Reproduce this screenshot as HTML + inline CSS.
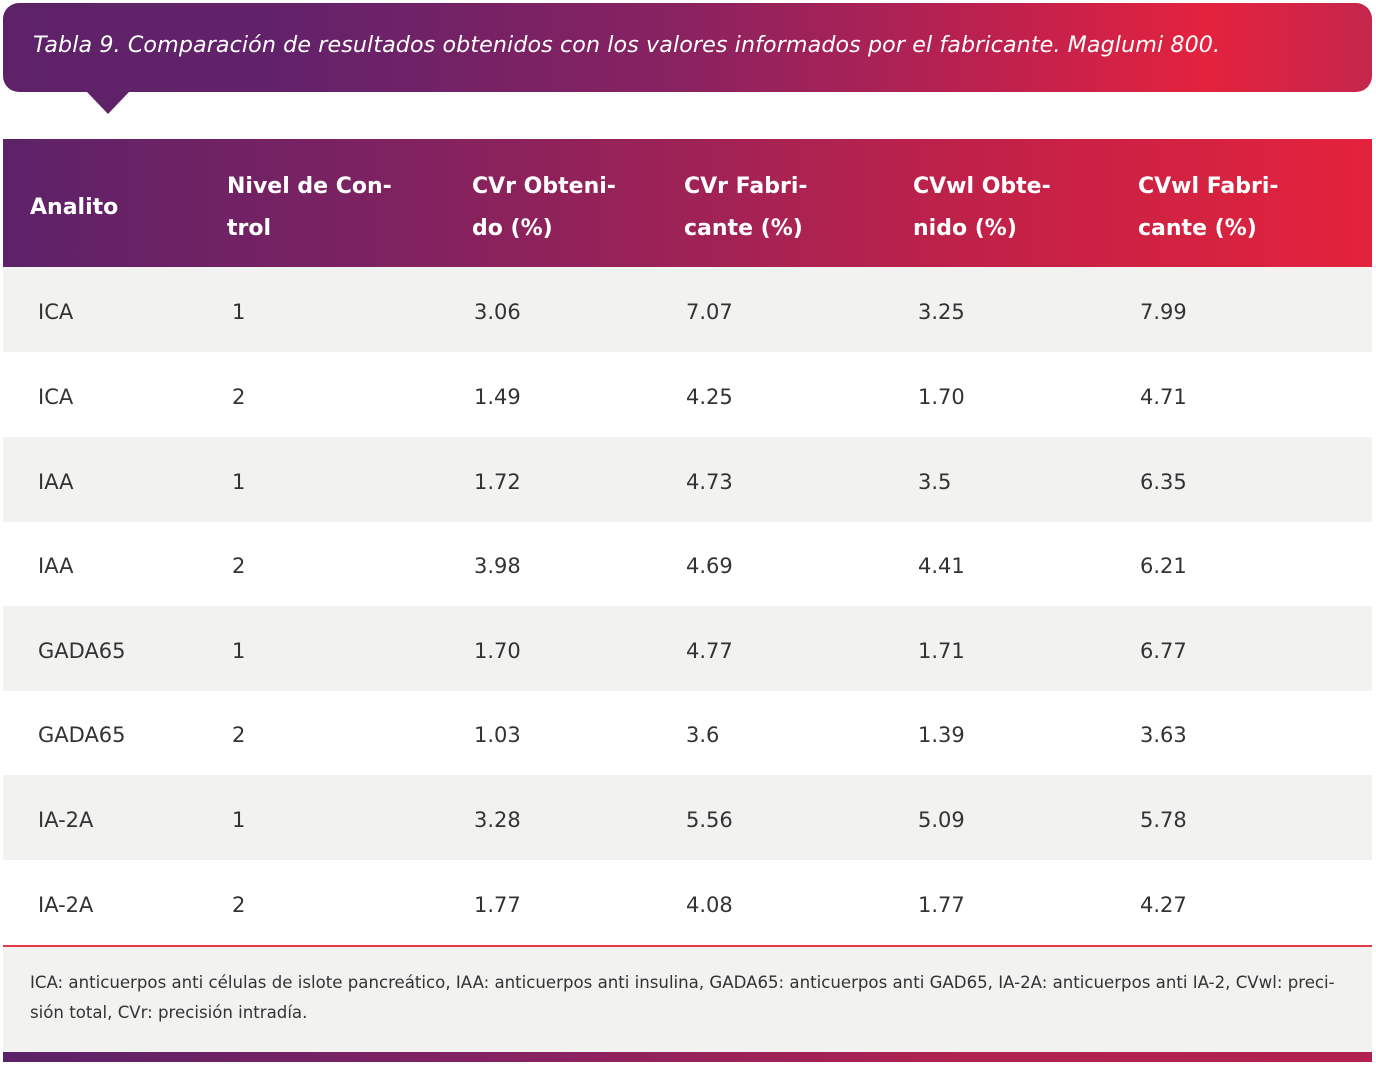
<!DOCTYPE html>
<html><head><meta charset="utf-8"><style>
*{margin:0;padding:0;box-sizing:border-box}
body{width:1376px;height:1066px;background:#fff;position:relative;overflow:hidden;font-family:"DejaVu Sans","Liberation Sans",sans-serif}
.title{position:absolute;left:3px;top:3px;width:1369px;height:89px;border-radius:16px;background:linear-gradient(90deg,#5e2268 0%,#62226a 20%,#8a2260 50%,#c4214c 75%,#e4223e 88%,#c4264c 100%);color:#fff;font-style:italic;font-size:22.2px;padding:29px 0 0 30px;letter-spacing:0.1px}
.tri{position:absolute;left:87px;top:92px;width:0;height:0;border-left:21px solid transparent;border-right:21px solid transparent;border-top:22px solid #5f2268}
.head{position:absolute;left:3px;top:139px;width:1369px;height:128px;background:linear-gradient(90deg,#5d2268 0%,#7a2262 25%,#9e2256 50%,#c22148 72%,#e4223c 100%);color:#fff;font-weight:bold;font-size:22px}
.head div{position:absolute;line-height:42px}
.row{position:absolute;left:3px;width:1369px;height:85px;color:#333;font-size:21px}
.row div{position:absolute;top:33px}
.g{background:#f2f2f1}
.line{position:absolute;left:3px;top:945px;width:1369px;height:2px;background:#e23a48}
.foot{position:absolute;left:3px;top:947px;width:1369px;height:105px;background:#f2f2f1;color:#333;font-size:16.6px;line-height:30px;padding:21px 20px 0 27px;white-space:nowrap}
.bar{position:absolute;left:3px;top:1052px;width:1369px;height:10px;background:linear-gradient(90deg,#5a2268,#8a2260 40%,#b0224f 70%,#b2214e)}
</style></head><body>
<div class="title">Tabla 9. Comparación de resultados obtenidos con los valores informados por el fabricante. Maglumi 800.</div>
<div class="tri"></div>
<div class="head">
<div style="left:27px;top:48px">Analito</div>
<div style="left:224px;top:27px">Nivel de Con-<br>trol</div>
<div style="left:469px;top:27px">CVr Obteni-<br>do (%)</div>
<div style="left:681px;top:27px">CVr Fabri-<br>cante (%)</div>
<div style="left:910px;top:27px">CVwl Obte-<br>nido (%)</div>
<div style="left:1135px;top:27px">CVwl Fabri-<br>cante (%)</div>
</div>
<div class="row g" style="top:267px"><div style="left:35px">ICA</div><div style="left:229px">1</div><div style="left:471px">3.06</div><div style="left:683px">7.07</div><div style="left:915px">3.25</div><div style="left:1137px">7.99</div></div>
<div class="row" style="top:352px"><div style="left:35px">ICA</div><div style="left:229px">2</div><div style="left:471px">1.49</div><div style="left:683px">4.25</div><div style="left:915px">1.70</div><div style="left:1137px">4.71</div></div>
<div class="row g" style="top:437px"><div style="left:35px">IAA</div><div style="left:229px">1</div><div style="left:471px">1.72</div><div style="left:683px">4.73</div><div style="left:915px">3.5</div><div style="left:1137px">6.35</div></div>
<div class="row" style="top:521px"><div style="left:35px">IAA</div><div style="left:229px">2</div><div style="left:471px">3.98</div><div style="left:683px">4.69</div><div style="left:915px">4.41</div><div style="left:1137px">6.21</div></div>
<div class="row g" style="top:606px"><div style="left:35px">GADA65</div><div style="left:229px">1</div><div style="left:471px">1.70</div><div style="left:683px">4.77</div><div style="left:915px">1.71</div><div style="left:1137px">6.77</div></div>
<div class="row" style="top:690px"><div style="left:35px">GADA65</div><div style="left:229px">2</div><div style="left:471px">1.03</div><div style="left:683px">3.6</div><div style="left:915px">1.39</div><div style="left:1137px">3.63</div></div>
<div class="row g" style="top:775px"><div style="left:35px">IA-2A</div><div style="left:229px">1</div><div style="left:471px">3.28</div><div style="left:683px">5.56</div><div style="left:915px">5.09</div><div style="left:1137px">5.78</div></div>
<div class="row" style="top:860px"><div style="left:35px">IA-2A</div><div style="left:229px">2</div><div style="left:471px">1.77</div><div style="left:683px">4.08</div><div style="left:915px">1.77</div><div style="left:1137px">4.27</div></div>
<div class="line"></div>
<div class="foot">ICA: anticuerpos anti células de islote pancreático, IAA: anticuerpos anti insulina, GADA65: anticuerpos anti GAD65, IA-2A: anticuerpos anti IA-2, CVwl: preci-<br>sión total, CVr: precisión intradía.</div>
<div class="bar"></div>
</body></html>
